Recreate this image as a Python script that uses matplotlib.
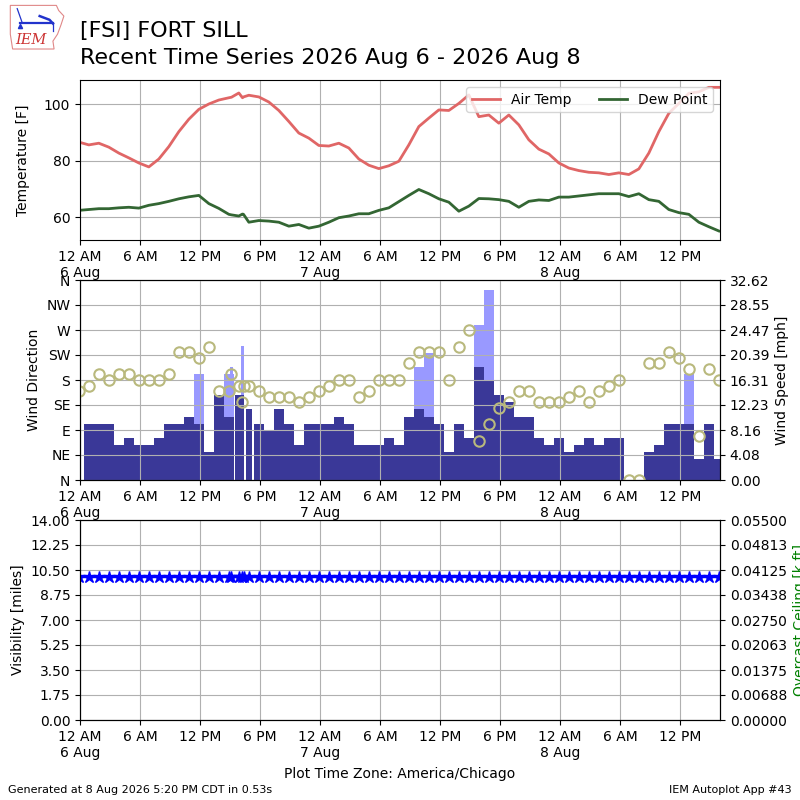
import numpy as np
import pandas as pd
import matplotlib

matplotlib.use("Agg")
import matplotlib.pyplot as plt
from matplotlib.ticker import FormatStrFormatter
from matplotlib.patches import Polygon

# routine hourly obs at :53 plus three specials on the afternoon of 6 Aug
HOURLY = pd.date_range("2026-08-05 23:53", "2026-08-08 15:53", freq="h")
SPECIALS = pd.to_datetime(["2026-08-06 15:09", "2026-08-06 16:15", "2026-08-06 16:21"])

TMPF_HOURLY = [
    86.6, 85.6, 86.2, 84.8, 82.7, 81.0, 79.2, 77.8, 80.6, 85.0,
    90.3, 94.7, 98.2, 100.1, 101.5, 102.3, 104.0, 103.2, 102.6, 100.8,
    97.8, 93.9, 89.8, 88.0, 85.4, 85.2, 86.2, 84.5, 80.6, 78.4,
    77.2, 78.2, 79.8, 85.6, 92.1, 95.1, 98.0, 97.8, 100.3, 103.3,
    95.6, 96.2, 93.3, 96.2, 92.7, 87.4, 84.1, 82.4, 79.2, 77.4,
    76.5, 75.9, 75.7, 75.1, 75.7, 75.1, 77.1, 82.7, 90.3, 96.8,
    100.3, 103.9, 104.4, 106.0, 106.0,
]
DWPF_HOURLY = [
    62.4, 62.7, 63.0, 63.0, 63.3, 63.5, 63.2, 64.2, 64.8, 65.6,
    66.5, 67.2, 67.7, 64.8, 63.1, 61.0, 60.4, 58.2, 58.8, 58.6,
    58.2, 56.8, 57.4, 56.1, 56.8, 58.2, 59.8, 60.4, 61.2, 61.2,
    62.4, 63.3, 65.5, 67.7, 69.8, 68.3, 66.5, 65.3, 62.1, 63.9,
    66.6, 66.5, 66.2, 65.6, 63.5, 65.6, 66.1, 65.9, 67.1, 67.1,
    67.5, 67.9, 68.3, 68.3, 68.3, 67.3, 68.3, 66.2, 65.6, 62.7,
    61.6, 61.0, 58.2, 56.6, 55.1,
]
DRCT_HOURLY = [
    160, 170, 190, 180, 190, 190, 180, 180, 180, 190,
    230, 230, 220, 240, 160, 160, 170, 170, 160, 150,
    150, 150, 140, 150, 160, 170, 180, 180, 150, 160,
    180, 180, 180, 210, 230, 230, 230, 180, 240, 270,
    70, 100, 130, 140, 160, 160, 140, 140, 140, 150,
    160, 140, 160, 170, 180, 0, 0, 210, 210, 230,
    220, 200, 80, 200, 180,
]
SKNT_HOURLY = [
    8, 8, 8, 8, 5, 6, 5, 5, 6, 8,
    8, 9, 8, 4, 12, 9, 12, 10, 8, 7,
    10, 8, 5, 8, 8, 8, 9, 8, 5, 5,
    5, 6, 5, 9, 10, 9, 8, 4, 8, 6,
    16, 14, 12, 11, 9, 9, 6, 5, 6, 4,
    5, 6, 5, 6, 6, 0, 0, 4, 5, 8,
    8, 8, 3, 8, 3,
]
GUST_HOURLY = [
    None, None, None, None, None, None, None, None, None, None,
    None, None, 15, None, None, 15, None, None, None, None,
    None, None, None, None, None, None, None, None, None, None,
    None, None, None, None, 16, 18, None, None, None, None,
    22, 27, None, None, None, None, None, None, None, None,
    None, None, None, None, None, None, None, None, None, None,
    None, 15, None, None, None,
]
VSBY_HOURLY = [
    10, 10, 10, 10, 10, 10, 10, 10, 10, 10,
    10, 10, 10, 10, 10, 10, 10, 10, 10, 10,
    10, 10, 10, 10, 10, 10, 10, 10, 10, 10,
    10, 10, 10, 10, 10, 10, 10, 10, 10, 10,
    10, 10, 10, 10, 10, 10, 10, 10, 10, 10,
    10, 10, 10, 10, 10, 10, 10, 10, 10, 10,
    10, 10, 10, 10, 10,
]
TMPF_SPECIAL = [102.5, 102.3, 102.6]
DWPF_SPECIAL = [60.8, 61.1, 61.0]
DRCT_SPECIAL = [190, 140, 170]
SKNT_SPECIAL = [9, 12, 12]
GUST_SPECIAL = [16, 19, None]
VSBY_SPECIAL = [10, 10, 10]

XTICK_LABELS = [
    "12 AM\n6 Aug", "6 AM", "12 PM", "6 PM",
    "12 AM\n7 Aug", "6 AM", "12 PM", "6 PM",
    "12 AM\n8 Aug", "6 AM", "12 PM",
]
DIR_LABELS = ["N", "NE", "E", "SE", "S", "SW", "W", "NW", "N"]

TEMP_COLOR = "#e06666"
DEW_COLOR = "#336633"
SKNT_COLOR = "#3a3898"
GUST_COLOR = "#9999ff"
DRCT_COLOR = "#b9b97d"
KT2MPH = 1.15078


def build_frame():
    hourly = pd.DataFrame({
        "valid": HOURLY, "tmpf": TMPF_HOURLY, "dwpf": DWPF_HOURLY,
        "drct": DRCT_HOURLY, "sknt": SKNT_HOURLY, "gust": GUST_HOURLY,
        "vsby": VSBY_HOURLY,
    })
    special = pd.DataFrame({
        "valid": SPECIALS, "tmpf": TMPF_SPECIAL, "dwpf": DWPF_SPECIAL,
        "drct": DRCT_SPECIAL, "sknt": SKNT_SPECIAL, "gust": GUST_SPECIAL,
        "vsby": VSBY_SPECIAL,
    })
    df = pd.concat([hourly, special]).sort_values("valid").reset_index(drop=True)
    df["gust"] = pd.to_numeric(df["gust"])
    return df


def setup_time_axis(ax, ticks, xlim):
    ax.set_xlim(*xlim)
    ax.set_xticks(ticks)
    ax.set_xticklabels(XTICK_LABELS)
    ax.grid(True)


def draw_logo(fig):
    lax = fig.add_axes([0.01, 0.937, 0.072, 0.058])
    lax.set_xlim(0, 1)
    lax.set_ylim(0, 1)
    lax.axis("off")
    outline = [(0.04, 0.97), (0.84, 0.97), (0.88, 0.86), (0.97, 0.74), (0.92, 0.55),
               (0.86, 0.35), (0.78, 0.2), (0.8, 0.03), (0.08, 0.03), (0.04, 0.35)]
    lax.add_patch(Polygon(outline, closed=True, fill=False, edgecolor="#e08888", lw=0.8))
    lax.plot([0.2, 0.78], [0.58, 0.58], color="#2233cc", lw=1.6)
    lax.plot([0.16, 0.24], [0.9, 0.62], color="#2233cc", lw=0.9)
    lax.plot([0.55, 0.72, 0.78], [0.74, 0.66, 0.58], color="#2233cc", lw=1.8)
    lax.plot([0.78, 0.78], [0.58, 0.42], color="#2233cc", lw=0.9)
    lax.plot([0.2], [0.52], marker="^", ms=3, color="#2233cc")
    lax.text(0.4, 0.22, "IEM", ha="center", va="center", fontsize=10.5,
             family="serif", style="italic", color="#cc3333")


def main():
    df = build_frame()
    ticks = pd.date_range("2026-08-06 00:00", periods=len(XTICK_LABELS), freq="6h")
    xlim = (pd.Timestamp("2026-08-06 00:00"), pd.Timestamp("2026-08-08 16:00"))

    fig = plt.figure(figsize=(8, 8), dpi=100)
    fig.text(0.1, 0.9534, "[FSI] FORT SILL", ha="left", va="baseline", fontsize=16)
    fig.text(0.1, 0.9196, "Recent Time Series 2026 Aug 6 - 2026 Aug 8",
             ha="left", va="baseline", fontsize=16)
    draw_logo(fig)

    # temperature panel
    ax1 = fig.add_axes([0.1, 0.7, 0.8, 0.2])
    ax1.plot(df["valid"], df["tmpf"], color=TEMP_COLOR, lw=2, label="Air Temp")
    ax1.plot(df["valid"], df["dwpf"], color=DEW_COLOR, lw=2, label="Dew Point")
    ax1.set_ylim(51.9, 108.6)
    ax1.set_ylabel("Temperature [F]", labelpad=10)
    setup_time_axis(ax1, ticks, xlim)
    ax1.legend(loc="upper right", ncol=2)

    # wind panel: speed bars behind, direction circles in front
    ax2 = fig.add_axes([0.1, 0.4, 0.8, 0.25])
    ax2b = ax2.twinx()
    hours = df["valid"].diff().dt.total_seconds() / 3600.0
    width = np.minimum(hours.to_numpy(), 1.0) / 24.0
    ok = np.isfinite(width)
    sknt = df["sknt"].to_numpy(dtype=float) * KT2MPH
    gust = df["gust"].to_numpy(dtype=float) * KT2MPH
    gok = ok & np.isfinite(gust)
    ax2b.bar(df["valid"][gok], gust[gok], width=width[gok], color=GUST_COLOR)
    ax2b.bar(df["valid"][ok], sknt[ok], width=width[ok], color=SKNT_COLOR)
    ymax = np.nanmax(gust) * 1.05
    ax2b.set_ylim(0, ymax)
    ax2b.set_yticks(np.linspace(0, ymax, 9))
    ax2b.yaxis.set_major_formatter(FormatStrFormatter("%.2f"))
    ax2b.set_ylabel("Wind Speed [mph]")

    ax2.plot(df["valid"], df["drct"], ls="none", marker="o", ms=7.5, mfc="none",
             mec=DRCT_COLOR, mew=1.5)
    ax2.set_ylim(0, 360)
    ax2.set_yticks(np.arange(0, 361, 45))
    ax2.set_yticklabels(DIR_LABELS)
    ax2.set_ylabel("Wind Direction")
    setup_time_axis(ax2, ticks, xlim)
    ax2.set_zorder(ax2b.get_zorder() + 1)
    ax2.patch.set_visible(False)

    # visibility / ceiling panel
    ax3 = fig.add_axes([0.1, 0.1, 0.8, 0.25])
    ax3.plot(df["valid"], df["vsby"], color="b", marker="*", ms=9, lw=1)
    ax3.set_ylim(0, 14)
    ax3.set_yticks(np.linspace(0, 14, 9))
    ax3.yaxis.set_major_formatter(FormatStrFormatter("%.2f"))
    ax3.set_ylabel("Visibility [miles]")
    setup_time_axis(ax3, ticks, xlim)
    ax3b = ax3.twinx()
    ax3b.set_ylim(0, 0.055)
    ax3b.set_yticks(np.linspace(0, 0.055, 9))
    ax3b.yaxis.set_major_formatter(FormatStrFormatter("%.5f"))
    ax3b.set_ylabel("Overcast Ceiling [k ft]", color="g")

    fig.text(0.5, 0.0325, "Plot Time Zone: America/Chicago", ha="center", va="center", fontsize=10)
    fig.text(0.01, 0.013, "Generated at 8 Aug 2026 5:20 PM CDT in 0.53s", ha="left",
             va="center", fontsize=8)
    fig.text(0.99, 0.013, "IEM Autoplot App #43", ha="right", va="center", fontsize=8)

    fig.savefig("out.png", dpi=100)
    plt.close(fig)


if __name__ == "__main__":
    main()
